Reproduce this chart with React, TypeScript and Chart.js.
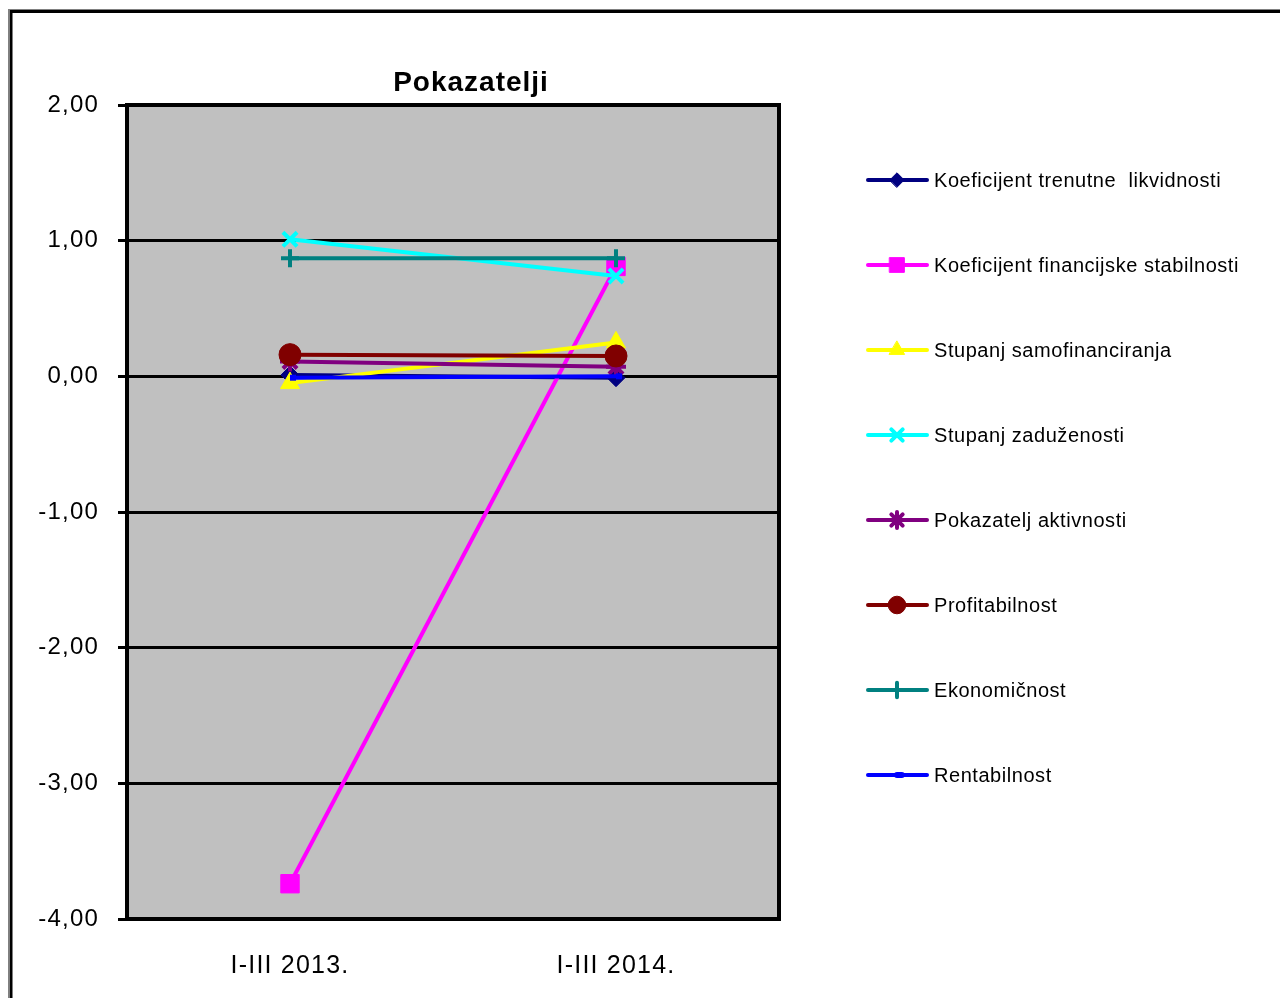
import React, { useEffect, useRef } from "react";
import { Chart, registerables } from "chart.js";
import { drawPoint } from "chart.js/helpers";

Chart.register(...registerables);

const categories = ["I-III 2013.", "I-III 2014."];
const seriesNames = [
  "Koeficijent trenutne  likvidnosti",
  "Koeficijent financijske stabilnosti",
  "Stupanj samofinanciranja",
  "Stupanj zaduženosti",
  "Pokazatelj aktivnosti",
  "Profitabilnost",
  "Ekonomičnost",
  "Rentabilnost",
];
const likvidnost = [0.01, -0.01];
const finStabilnost = [-3.74, 0.81];
const samofinanciranje = [-0.05, 0.25];
const zaduzenost = [1.01, 0.74];
const aktivnost = [0.11, 0.07];
const profitabilnost = [0.16, 0.15];
const ekonomicnost = [0.87, 0.87];
const rentabilnost = [-0.01, 0.0];
const seriesValues = [
  likvidnost,
  finStabilnost,
  samofinanciranje,
  zaduzenost,
  aktivnost,
  profitabilnost,
  ekonomicnost,
  rentabilnost,
];
const yMin = -4;
const yMax = 2;
const yStep = 1;

const colors = ["#000080", "#FF00FF", "#FFFF00", "#00FFFF", "#800080", "#800000", "#008080", "#0000FF"];
const styles = ["rectRot", "rect", "triangle", "crossRot", "star", "circle", "cross", "dash"];
const radii = [9, 13, 11, 10, 10, 11, 9, 6];
const pbw = [1, 1, 1, 4, 4, 1, 4, 6];

const FONT = "'Liberation Sans', Arial, sans-serif";

export default function App() {
  const ref = useRef<HTMLCanvasElement>(null);
  useEffect(() => {
    const canvas = ref.current!;
    const deco = {
      id: "deco",
      beforeDraw(chart: any) {
        const { ctx, chartArea: a } = chart;
        ctx.save();
        ctx.fillStyle = "#ffffff";
        ctx.fillRect(0, 0, chart.width, chart.height);
        ctx.fillStyle = "#C0C0C0";
        ctx.fillRect(a.left, a.top, a.right - a.left, a.bottom - a.top);
        ctx.restore();
        (ctx as any).letterSpacing = "1.2px";
      },
      beforeDatasetsDraw(chart: any) {
        const { ctx, chartArea: a } = chart;
        ctx.save();
        ctx.strokeStyle = "#000";
        ctx.lineWidth = 4;
        ctx.strokeRect(a.left, a.top, a.right - a.left, a.bottom - a.top);
        ctx.restore();
      },
      afterDraw(chart: any) {
        const { ctx } = chart;
        ctx.save();
        // outer frame
        ctx.strokeStyle = "#808080";
        ctx.lineWidth = 1;
        ctx.strokeRect(8.5, 9.5, 1400, 1200);
        ctx.strokeStyle = "#000";
        ctx.lineWidth = 3;
        ctx.strokeRect(11, 11.5, 1400, 1200);
        // title
        ctx.fillStyle = "#000";
        ctx.font = `bold 28px ${FONT}`;
        (ctx as any).letterSpacing = "1px";
        ctx.textAlign = "center";
        ctx.textBaseline = "middle";
        ctx.fillText("Pokazatelji", 471, 83);
        // legend
        ctx.font = `20px ${FONT}`;
        (ctx as any).letterSpacing = "0.55px";
        ctx.textAlign = "left";
        seriesNames.forEach((name, i) => {
          const y = 180 + 85 * i;
          ctx.strokeStyle = colors[i];
          ctx.lineWidth = 4;
          ctx.lineCap = "round";
          ctx.beginPath();
          ctx.moveTo(868, y);
          ctx.lineTo(927, y);
          ctx.stroke();
          ctx.fillStyle = colors[i];
          ctx.strokeStyle = colors[i];
          ctx.lineWidth = pbw[i];
          drawPoint(ctx, { pointStyle: styles[i] as any, radius: radii[i] * 0.8, rotation: 0, borderWidth: pbw[i] }, 897, y);
          ctx.fillStyle = "#000";
          ctx.fillText(name, 934, y + 1);
        });
        ctx.restore();
        (ctx as any).letterSpacing = "0px";
      },
    };
    const chart = new Chart(canvas, {
      type: "line",
      data: {
        labels: categories,
        datasets: seriesNames.map((name, i) => ({
          label: name,
          data: seriesValues[i],
          borderColor: colors[i],
          backgroundColor: colors[i],
          borderWidth: 4,
          pointStyle: styles[i] as any,
          pointRadius: radii[i],
          pointBorderWidth: pbw[i],
          pointBackgroundColor: colors[i],
          pointBorderColor: colors[i],
          tension: 0,
          order: -i,
          clip: false as any,
        })),
      },
      options: {
        animation: false,
        responsive: false,
        devicePixelRatio: 1,
        layout: { padding: { left: 0, top: 105, right: 501, bottom: 19 } },
        plugins: {
          legend: { display: false },
          title: { display: false },
          tooltip: { enabled: false },
        },
        scales: {
          x: {
            offset: true,
            grid: { display: false },
            border: { display: false },
            ticks: { color: "#000", font: { family: FONT, size: 25 }, padding: 24, maxRotation: 0 },
            afterFit(scale: any) {
              scale.height = 60;
            },
          },
          y: {
            min: yMin,
            max: yMax,
            border: { display: false },
            grid: { color: "#000", lineWidth: 3, tickLength: 9 },
            ticks: {
              stepSize: yStep,
              color: "#000",
              font: { family: FONT, size: 24 },
              padding: 19,
              callback: (v: any) => Number(v).toFixed(2).replace(".", ","),
            },
            afterFit(scale: any) {
              scale.width = 127;
            },
          },
        },
      },
      plugins: [deco],
    });
    return () => chart.destroy();
  }, []);
  return (
    <div style={{ position: "fixed", left: 0, top: 0, width: 1280, height: 998, background: "#fff" }}>
      <canvas ref={ref} width={1280} height={998} style={{ display: "block", width: 1280, height: 998 }} />
    </div>
  );
}
